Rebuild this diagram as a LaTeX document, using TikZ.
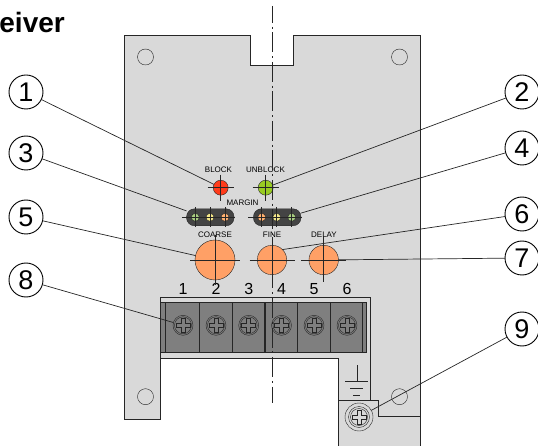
\documentclass[tikz,border=0pt]{standalone}
\usepackage{fontspec}
\setmainfont{Liberation Sans}
\definecolor{plate}{HTML}{D9D9D9}
\definecolor{ink}{HTML}{262626}
\definecolor{knobfill}{HTML}{FFA066}
\definecolor{pillfill}{HTML}{444444}
\definecolor{blockfill}{HTML}{7F7F7F}
\tikzset{
  dot/.style = {circle, draw=ink, inner sep=0pt, outer sep=0pt, minimum size=#1},
  dot/.default = 16pt,
  callout/.style = {circle, draw=black, fill=white, line width=0.9pt, inner sep=0pt, outer sep=0pt,
                    minimum size=34pt, font=\fontsize{27}{27}\selectfont},
  pill/.style = {rectangle, rounded corners=8pt, fill=pillfill, draw=ink, inner sep=0pt, outer sep=0pt,
                 minimum width=47.5pt, minimum height=17pt},
  tag/.style = {inner sep=0pt, text=black, font=\fontsize{8}{8}\selectfont},
  termno/.style = {inner sep=0pt, text=black, font=\fontsize{16}{16}\selectfont},
  leader/.style = {draw=ink, line width=0.7pt},
  hair/.style = {draw=ink, line width=0.7pt},
  edge/.style = {draw=ink, line width=1pt}
}

\begin{document}
\begin{tikzpicture}[x=1pt,y=-1pt]
	\def \ledy{187.7}
	\def \pilly{217.3}
	\def \knoby{260}
	\def \screwy{325.3}
	\def \hairs#1#2{\draw[hair] (#1.center) +(-#2,0) -- +(#2,0) (#1.center) +(0,-#2) -- +(0,#2);}
	\def \screw#1#2#3{
		\node[dot=20pt, fill=blockfill] (#1) at (#2,#3) {};
		\node[dot=17pt] (#1in) at (#2,#3) {};
		\draw[ink, line width=0.7pt, shift={(#2,#3)}] (-2,-7) -- (2,-7) -- (2,-2) -- (7,-2) -- (7,2) -- (2,2) -- (2,7) -- (-2,7) -- (-2,2) -- (-7,2) -- (-7,-2) -- (-2,-2) -- cycle;
	}
	\useasboundingbox (0,0) rectangle (538,446);

	% Title
	\node[anchor=base east, inner sep=0pt, font=\fontsize{28}{28}\selectfont\bfseries] (title) at (65,33) {eiver};

	% Plate
	\fill[plate] (124.5,35.5) -- (250.5,35.5) -- (250.5,66) -- (293.5,66) -- (293.5,35.5) -- (420,35.5) -- (420,447) -- (338,447) -- (338,358.7) -- (160.7,358.7) -- (160.7,419.7) -- (124.5,419.7) -- cycle;
	\draw[edge] (338,447) -- (338,358.7) -- (160.7,358.7) -- (160.7,419.7) -- (124.5,419.7) -- (124.5,35.5) -- (250.5,35.5) -- (250.5,66) -- (293.5,66) -- (293.5,35.5) -- (420,35.5) -- (420,447);
	\draw[edge] (338,400) -- (378,400) -- (378,416.7) -- (420,416.7);
	\draw[edge] (160.7,358.7) -- (160.7,297.7) -- (370,297.7) -- (370,400);

	% Plate holes
	\node[dot=16pt] (hole1) at (145.5,57) {};
	\node[dot=16pt] (hole2) at (399.5,57) {};
	\node[dot=16pt] (hole3) at (145.5,396.7) {};
	\node[dot=16pt] (hole4) at (399.5,396.7) {};

	% Terminal block
	\fill[blockfill, draw=ink, line width=0.9pt] (160.7,302.3) rectangle (366.7,352.7);
	\draw[ink, line width=1.2pt] (165.3,302.3) -- (165.3,352.7);
	\draw[ink, line width=1.2pt] (199.3,302.3) -- (199.3,352.7);
	\draw[ink, line width=1.2pt] (232.5,302.3) -- (232.5,352.7);
	\draw[ink, line width=1.2pt] (265,302.3) -- (265,352.7);
	\draw[ink, line width=1.2pt] (297.7,302.3) -- (297.7,352.7);
	\draw[ink, line width=1.2pt] (330.3,302.3) -- (330.3,352.7);
	\draw[ink, line width=1.2pt] (362.3,302.3) -- (362.3,352.7);
	\screw{term1}{183}{\screwy}
	\screw{term2}{216}{\screwy}
	\screw{term3}{248.7}{\screwy}
	\screw{term4}{281.5}{\screwy}
	\screw{term5}{314}{\screwy}
	\screw{term6}{347}{\screwy}

	% Terminal numbers
	\node[termno] (no1) at (183,289) {1};
	\node[termno] (no2) at (216,289) {2};
	\node[termno] (no3) at (248.7,289) {3};
	\node[termno] (no4) at (281.5,289) {4};
	\node[termno] (no5) at (314,289) {5};
	\node[termno] (no6) at (347,289) {6};

	% Ground
	\draw[ink, line width=0.9pt] (357,365) -- (357,381);
	\draw[ink, line width=0.9pt] (345,381) -- (368,381);
	\draw[ink, line width=0.9pt] (350,388) -- (363,388);
	\draw[ink, line width=0.9pt] (353,395) -- (360,395);
	\node[dot=28pt, fill=plate] (gndring) at (359,417) {};
	\node[dot=21pt] (gndhead) at (359,417) {};
	\node[dot=17pt] (gndin) at (359,417) {};
	\draw[ink, line width=0.7pt, shift={(359,417)}] (-2,-7) -- (2,-7) -- (2,-2) -- (7,-2) -- (7,2) -- (2,2) -- (2,7) -- (-2,7) -- (-2,2) -- (-7,2) -- (-7,-2) -- (-2,-2) -- cycle;

	% LEDs
	\node[dot=15pt, fill={rgb,255:red,255;green,59;blue,26}] (ledblock) at (220.7,\ledy) {};
	\node[dot=15pt, fill={rgb,255:red,153;green,204;blue,34}] (ledunblock) at (265.7,\ledy) {};
	\hairs{ledblock}{13}
	\hairs{ledunblock}{13}

	% Margin LEDs
	\node[pill] (pillL) at (210.3,\pilly) {};
	\node[pill] (pillR) at (277.2,\pilly) {};
	\node[dot=8pt, fill={rgb,255:red,168;green,204;blue,128}] (mL1) at (195.3,\pilly) {};
	\node[dot=8pt, fill={rgb,255:red,245;green,232;blue,138}] (mL2) at (210,\pilly) {};
	\node[dot=8pt, fill={rgb,255:red,255;green,176;blue,112}] (mL3) at (225,\pilly) {};
	\node[dot=8pt, fill={rgb,255:red,255;green,176;blue,112}] (mR1) at (261.7,\pilly) {};
	\node[dot=8pt, fill={rgb,255:red,245;green,232;blue,138}] (mR2) at (276.7,\pilly) {};
	\node[dot=8pt, fill={rgb,255:red,168;green,204;blue,128}] (mR3) at (291.7,\pilly) {};
	\hairs{mL1}{10}
	\hairs{mL2}{10}
	\hairs{mL3}{10}
	\hairs{mR1}{10}
	\hairs{mR2}{10}
	\hairs{mR3}{10}
	\draw[hair] (mL1.center) ++(-13.5,0) -- (mL1.center);
	\draw[hair] (mR1.center) ++(-13.5,0) -- (mR1.center);

	% Knobs
	\node[dot=40pt, fill=knobfill] (coarse) at (215,\knoby) {};
	\node[dot=29.5pt, fill=knobfill] (fine) at (272,\knoby) {};
	\node[dot=29.5pt, fill=knobfill] (delay) at (323.7,\knoby) {};
	\hairs{coarse}{25}
	\hairs{fine}{22.5}
	\hairs{delay}{22.5}

	% Labels
	\node[tag] (lblblock) at (218.5,170) {BLOCK};
	\node[tag] (lblunblock) at (265.5,170) {UNBLOCK};
	\node[tag] (lblmargin) at (242.5,202.5) {MARGIN};
	\node[tag] (lblcoarse) at (215,234.5) {COARSE};
	\node[tag] (lblfine) at (272,234.5) {FINE};
	\node[tag] (lbldelay) at (324,234.5) {DELAY};

	% Center line
	\draw[ink, line width=0.7pt, dash pattern=on 20pt off 3.75pt on 2pt off 3.75pt, dash phase=3pt] (272,6) -- (272,403);

	% Callouts
	\node[callout] (c1) at (26,92) {1};
	\node[callout] (c2) at (522,92) {2};
	\node[callout] (c3) at (26,153) {3};
	\node[callout] (c4) at (522,148) {4};
	\node[callout] (c5) at (26,217) {5};
	\node[callout] (c6) at (522,214) {6};
	\node[callout] (c7) at (522,258) {7};
	\node[callout] (c8) at (26,280) {8};
	\node[callout] (c9) at (522,329) {9};

	% Leaders
	\draw[leader] (c1) -- (ledblock);
	\draw[leader] (c2) -- (ledunblock);
	\draw[leader] (c3) -- (pillL.165);
	\draw[leader] (c4) -- (pillR.10);
	\draw[leader] (c5) -- (coarse);
	\draw[leader] (c6) -- (fine.45);
	\draw[leader] (c7) -- (delay);
	\draw[leader] (c8) -- (term1);
	\draw[leader] (c9) -- (gndring);
\end{tikzpicture}
\end{document}
